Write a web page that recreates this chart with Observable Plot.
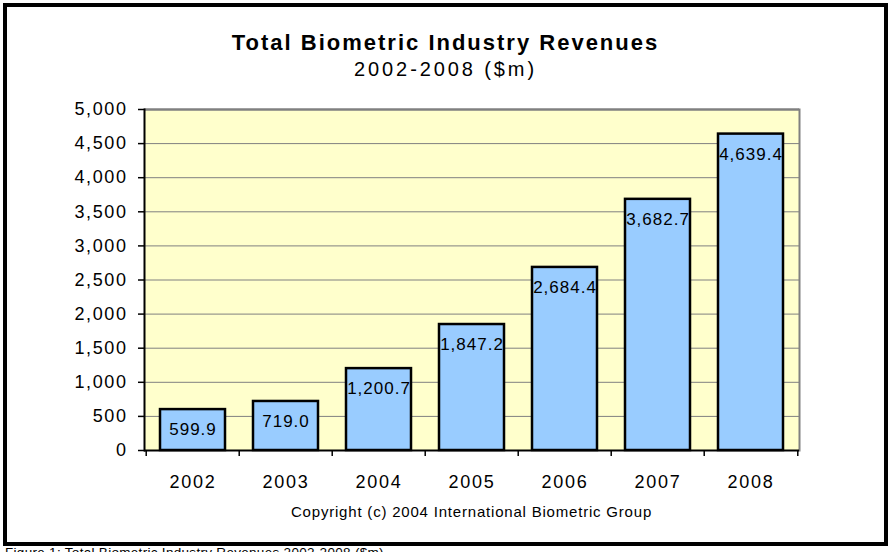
<!DOCTYPE html>
<html>
<head>
<meta charset="utf-8">
<script src="https://cdn.jsdelivr.net/npm/d3@7"></script>
<script src="https://cdn.jsdelivr.net/npm/@observablehq/plot@0.6"></script>
<style>
  html, body { margin: 0; padding: 0; background: #fff; overflow: hidden; }
  body { width: 894px; height: 552px; position: relative; font-family: "Liberation Sans", Arial, sans-serif; color: #000; }
  #chart { position: absolute; left: 0; top: 0; }
  .box { position: absolute; left: 3px; top: 3px; width: 877px; height: 535px; border: 4px solid #000; }
  .t { position: absolute; white-space: nowrap; line-height: 1; }
  #title { left: 3px; width: 885px; top: 32px; text-align: center; font-size: 22px; font-weight: bold; letter-spacing: 2px; }
  #subtitle { left: 3px; width: 885px; top: 59px; text-align: center; font-size: 20px; letter-spacing: 2.9px; }
  #copy { left: 144px; width: 655px; top: 504px; text-align: center; font-size: 15px; letter-spacing: 0.8px; }
  #caption { left: 5px; top: 546px; font-size: 13.5px; letter-spacing: 0.3px; }
  #chart [aria-label="x-axis tick label"] text { letter-spacing: 1.7px; }
  #chart [aria-label="y-axis tick label"] text { letter-spacing: 1.6px; }
  #chart [aria-label="text"] text { letter-spacing: 1px; }
</style>
</head>
<body>
<div id="chart"></div>
<div class="box"></div>
<div class="t" id="title">Total Biometric Industry Revenues</div>
<div class="t" id="subtitle">2002-2008 ($m)</div>
<div class="t" id="copy">Copyright (c) 2004 International Biometric Group</div>
<div class="t" id="caption">Figure 1: Total Biometric Industry Revenues 2002-2008 ($m)</div>
<script>
const years = ["2002", "2003", "2004", "2005", "2006", "2007", "2008"];
const revenues = [599.9, 719.0, 1200.7, 1847.2, 2684.4, 3682.7, 4639.4];
const yTicks = [0, 500, 1000, 1500, 2000, 2500, 3000, 3500, 4000, 4500, 5000];
const gridTicks = [500, 1000, 1500, 2000, 2500, 3000, 3500, 4000, 4500];

const data = years.map((year, i) => ({year, value: revenues[i]}));

const W = 894, H = 552;
const mL = 144, mR = 95, mT = 109, mB = 102;
const step = (W - mL - mR) / years.length;

const plot = Plot.plot({
  width: W,
  height: H,
  marginLeft: mL,
  marginRight: mR,
  marginTop: mT,
  marginBottom: mB,
  style: {fontFamily: '"Liberation Sans", Arial, sans-serif', fontSize: "18px", color: "#000", background: "transparent"},
  x: {domain: years, paddingInner: 0.3, paddingOuter: 0.15, align: 0.5, label: null},
  y: {domain: [0, 5000], label: null},
  marks: [
    Plot.frame({fill: "#FFFFCC", stroke: null}),
    Plot.ruleY(gridTicks, {stroke: "#808080", strokeWidth: 1}),
    Plot.ruleY([5000], {stroke: "#808080", strokeWidth: 2.5}),
    Plot.frame({anchor: "right", stroke: "#808080", strokeWidth: 2}),
    Plot.barY(data, {x: "year", y: "value", fill: "#99CCFF", stroke: "#000", strokeWidth: 2.5}),
    Plot.text(data, {x: "year", y: "value", text: d => d3.format(",.1f")(d.value), dy: 20, fontSize: 17, fill: "#000"}),
    Plot.frame({anchor: "left", stroke: "#000", strokeWidth: 2}),
    Plot.ruleY([0], {stroke: "#000", strokeWidth: 2}),
    Plot.ruleX(years, {x: d => d, y1: 0, y2: 0, insetBottom: -6, dx: -step / 2, stroke: "#000", strokeWidth: 1.5}),
    Plot.ruleX([years[years.length - 1]], {x: d => d, y1: 0, y2: 0, insetBottom: -6, dx: step / 2, stroke: "#000", strokeWidth: 1.5}),
    Plot.axisY({ticks: yTicks, tickSize: 6, tickPadding: 11, tickFormat: d3.format(","), fontSize: 18, strokeWidth: 1.5}),
    Plot.axisX({tickSize: 0, tickPadding: 25, fontSize: 18})
  ]
});
document.getElementById("chart").appendChild(plot);
</script>
</body>
</html>
